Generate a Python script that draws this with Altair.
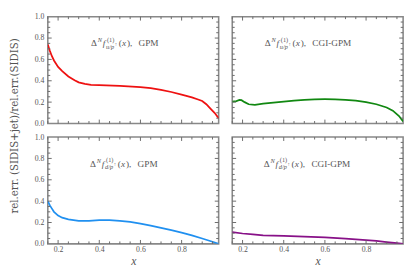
import altair as alt
import pandas as pd

# ---- data ----
x_gpm_u = [0.15, 0.16, 0.17, 0.18, 0.20, 0.22, 0.25, 0.28, 0.30, 0.33, 0.36, 0.40, 0.50, 0.60, 0.65,
           0.70, 0.75, 0.80, 0.85, 0.88, 0.90, 0.92, 0.94, 0.96, 0.98]
y_gpm_u = [0.74, 0.68, 0.63, 0.59, 0.53, 0.49, 0.44, 0.405, 0.385, 0.37, 0.362, 0.36, 0.352, 0.34, 0.33,
           0.315, 0.295, 0.27, 0.245, 0.225, 0.21, 0.18, 0.14, 0.10, 0.05]

x_cgi_u = [0.15, 0.17, 0.185, 0.195, 0.21, 0.23, 0.26, 0.30, 0.35, 0.40, 0.45, 0.50, 0.55, 0.60, 0.65,
           0.70, 0.75, 0.80, 0.85, 0.90, 0.93, 0.96, 0.98]
y_cgi_u = [0.205, 0.21, 0.22, 0.218, 0.20, 0.18, 0.175, 0.185, 0.195, 0.205, 0.215, 0.222, 0.226, 0.227,
           0.226, 0.222, 0.215, 0.20, 0.18, 0.15, 0.12, 0.07, 0.02]

x_gpm_d = [0.15, 0.16, 0.17, 0.18, 0.20, 0.22, 0.25, 0.30, 0.35, 0.40, 0.45, 0.50, 0.55, 0.60, 0.65,
           0.70, 0.75, 0.80, 0.85, 0.90, 0.95, 0.98]
y_gpm_d = [0.40, 0.36, 0.33, 0.30, 0.265, 0.245, 0.23, 0.215, 0.215, 0.222, 0.223, 0.215, 0.205, 0.19,
           0.17, 0.15, 0.128, 0.105, 0.08, 0.05, 0.02, 0.0]

x_cgi_d = [0.15, 0.20, 0.25, 0.30, 0.35, 0.40, 0.50, 0.60, 0.70, 0.80, 0.85, 0.90, 0.95, 0.98]
y_cgi_d = [0.11, 0.097, 0.088, 0.08, 0.077, 0.074, 0.068, 0.06, 0.05, 0.036, 0.027, 0.016, 0.006, 0.0]

x_labels = [0.2, 0.4, 0.6, 0.8]
y_labels = [0.0, 0.2, 0.4, 0.6, 0.8, 1.0]
x_minor = [0.15, 0.25, 0.30, 0.35, 0.45, 0.50, 0.55, 0.65, 0.70, 0.75, 0.85, 0.90, 0.95]
y_minor = [0.05, 0.1, 0.15, 0.25, 0.3, 0.35, 0.45, 0.5, 0.55, 0.65, 0.7, 0.75, 0.85, 0.9, 0.95]
y_major = [0.2, 0.4, 0.6, 0.8]

W, H = 176, 110
XDOM = [0.15, 0.98]
SERIF = "Liberation Serif"
TXT = "#555555"
TICK = "#6a6a6a"

xs = alt.Scale(domain=XDOM, nice=False, zero=False)
ys = alt.Scale(domain=[0, 1], nice=False)


def tick_layers(xaxis, yaxis):
    layers = []
    for vals, ln in ((x_labels, 4), (x_minor, 2.5)):
        d = pd.DataFrame({"t": vals})
        for ya, yb in ((0, ln), (H, H - ln)):
            layers.append(alt.Chart(d).mark_rule(color=TICK, strokeWidth=1).encode(
                x=alt.X("t:Q", scale=xs, axis=xaxis), y=alt.value(ya), y2=alt.value(yb)))
    for vals, ln in ((y_major, 4), (y_minor, 2.5)):
        d = pd.DataFrame({"t": vals})
        for xa, xb in ((0, ln), (W, W - ln)):
            layers.append(alt.Chart(d).mark_rule(color=TICK, strokeWidth=1).encode(
                y=alt.Y("t:Q", scale=ys, axis=yaxis), x=alt.value(xa), x2=alt.value(xb)))
    return layers


def txt(s, x, y, size, italic=False):
    return alt.Chart(alt.Data(values=[{}])).mark_text(
        text=s, align="left", baseline="alphabetic", font=SERIF, fontSize=size,
        fontStyle="italic" if italic else "normal", color=TXT
    ).encode(x=alt.value(x), y=alt.value(y))


def label_layers(flav, suffix, X, B=30.5):
    return [
        txt("Δ", X, B, 9.5),
        txt("N", X + 7, B - 4, 6.5, True),
        txt("f", X + 12, B, 9.5, True),
        txt("(1)", X + 16.5, B - 4.5, 6.5),
        txt(flav + "/p", X + 15.5, B + 2.5, 6.5, True),
        txt("↑", X + 24.5, B - 0.5, 5),
        txt("(", X + 28.5, B, 9.5),
        txt("x", X + 32, B, 9.5, True),
        txt("),", X + 37, B, 9.5),
        txt(suffix, X + 49, B, 9.5),
    ]


def panel(xv, yv, color, flav, suffix, X, left, bottom):
    df = pd.DataFrame({"x": xv, "y": yv})
    xaxis = alt.Axis(values=x_labels, format=".1f", ticks=False, domain=False, grid=False,
                     title="x", labelPadding=2, titlePadding=2) if bottom else None
    yaxis = alt.Axis(values=y_labels, format=".1f", ticks=False, domain=False, grid=False,
                     title=None, labelPadding=4) if left else None
    line = alt.Chart(df).mark_line(color=color, strokeWidth=1.8, clip=True).encode(
        x=alt.X("x:Q", scale=xs, axis=xaxis),
        y=alt.Y("y:Q", scale=ys, axis=yaxis),
    )
    return alt.layer(line, *tick_layers(xaxis, yaxis), *label_layers(flav, suffix, X)).properties(
        width=W, height=H)


tl = panel(x_gpm_u, y_gpm_u, "#ee1111", "u", "GPM", 44.5, True, False)
tr = panel(x_cgi_u, y_cgi_u, "#118811", "u", "CGI-GPM", 33.5, False, False)
bl = panel(x_gpm_d, y_gpm_d, "#2090f0", "d", "GPM", 43.5, True, True)
br = panel(x_cgi_d, y_cgi_d, "#881188", "d", "CGI-GPM", 32.5, False, True)

chart = alt.vconcat(
    alt.hconcat(tl, tr, spacing=10),
    alt.hconcat(bl, br, spacing=10),
    spacing=4,
).properties(
    title=alt.TitleParams(
        text="rel.err. (SIDIS+jet)/rel.err.(SIDIS)", orient="left", anchor="middle",
        font="DejaVu Serif", fontSize=10.5, fontWeight="normal", color=TXT, offset=13, dx=14,
    ),
    padding={"left": 2, "top": 0, "right": 2, "bottom": 0},
).configure_view(
    stroke="#888888", strokeWidth=1.6
).configure_axis(
    labelFont=SERIF, labelFontSize=8, labelColor=TXT,
    titleFont=SERIF, titleFontSize=12, titleFontStyle="italic", titleFontWeight="normal", titleColor=TXT,
)

chart.save("out.html", embed_options={"renderer": "svg", "actions": False})
